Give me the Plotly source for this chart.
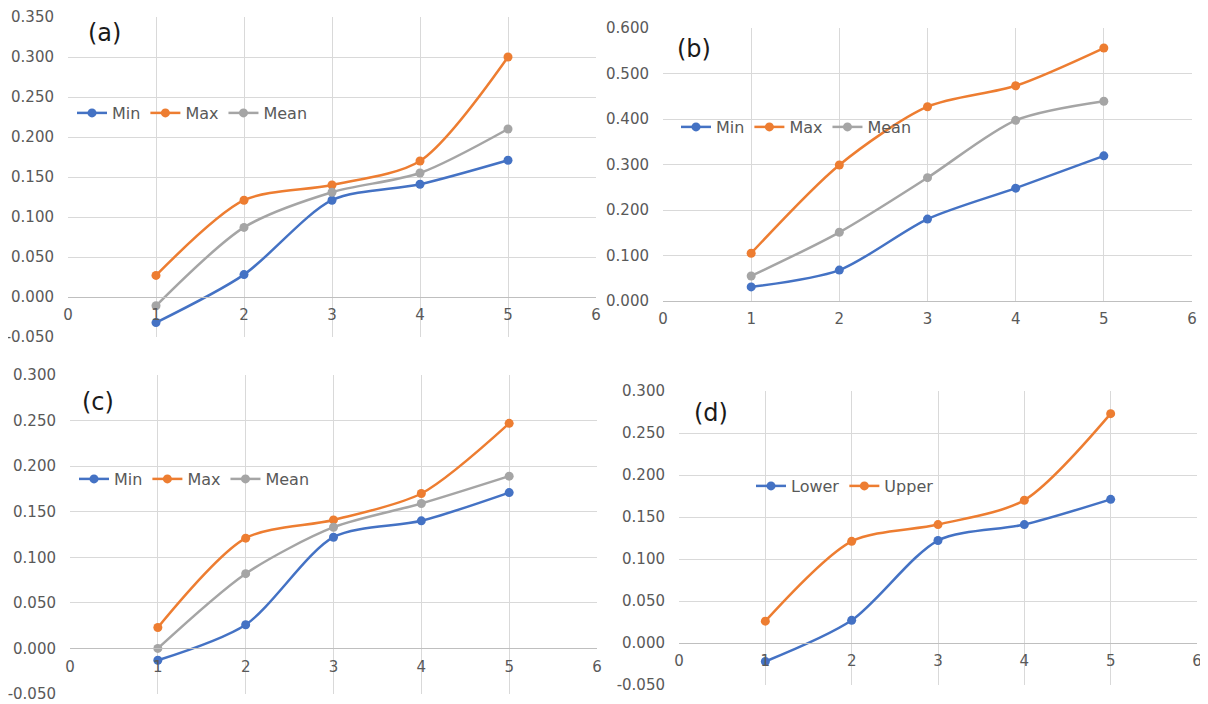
import plotly.graph_objects as go

x_vals = [1, 2, 3, 4, 5]

# Panel (a)
a_min = [-0.032, 0.028, 0.121, 0.141, 0.171]
a_max = [0.027, 0.121, 0.140, 0.170, 0.300]
a_mean = [-0.011, 0.087, 0.131, 0.155, 0.210]

# Panel (b)
b_min = [0.031, 0.068, 0.180, 0.248, 0.319]
b_max = [0.105, 0.299, 0.427, 0.473, 0.556]
b_mean = [0.055, 0.151, 0.271, 0.397, 0.439]

# Panel (c)
c_min = [-0.013, 0.026, 0.122, 0.140, 0.171]
c_max = [0.023, 0.121, 0.141, 0.170, 0.247]
c_mean = [0.000, 0.082, 0.133, 0.159, 0.189]

# Panel (d)
d_lower = [-0.022, 0.027, 0.122, 0.141, 0.171]
d_upper = [0.026, 0.121, 0.141, 0.170, 0.273]

x_ticks = [0, 1, 2, 3, 4, 5, 6]
y_ticks_a = [-0.05, 0.0, 0.05, 0.10, 0.15, 0.20, 0.25, 0.30, 0.35]
y_ticks_b = [0.0, 0.1, 0.2, 0.3, 0.4, 0.5, 0.6]
y_ticks_c = [-0.05, 0.0, 0.05, 0.10, 0.15, 0.20, 0.25, 0.30]
y_ticks_d = [-0.05, 0.0, 0.05, 0.10, 0.15, 0.20, 0.25, 0.30]

BLUE = "#4472C4"
ORANGE = "#ED7D31"
GRAY = "#A5A5A5"
FONT = "DejaVu Sans"
TICKCOL = "#595959"
GRID = "#D9D9D9"

OFF = 8  # page body margin
W, H = 1208 - OFF, 704 - OFF

def px_x(p):
    return (p - OFF) / W

def px_y(p):
    return 1 - (p - OFF) / H

def fmt(v):
    return "%.3f" % v

fig = go.Figure()

def add_series(xa, ya, name, yv, color, legend):
    fig.add_trace(go.Scatter(
        x=x_vals, y=yv, name=name, mode="lines+markers",
        line=dict(color=color, width=2.5, shape="spline", smoothing=0.8),
        marker=dict(color=color, size=9, symbol="circle"),
        xaxis=xa, yaxis=ya, legend=legend,
    ))

add_series("x", "y", "Min", a_min, BLUE, "legend")
add_series("x", "y", "Max", a_max, ORANGE, "legend")
add_series("x", "y", "Mean", a_mean, GRAY, "legend")

add_series("x2", "y2", "Min", b_min, BLUE, "legend2")
add_series("x2", "y2", "Max", b_max, ORANGE, "legend2")
add_series("x2", "y2", "Mean", b_mean, GRAY, "legend2")

add_series("x3", "y3", "Min", c_min, BLUE, "legend3")
add_series("x3", "y3", "Max", c_max, ORANGE, "legend3")
add_series("x3", "y3", "Mean", c_mean, GRAY, "legend3")

add_series("x4", "y4", "Lower", d_lower, BLUE, "legend4")
add_series("x4", "y4", "Upper", d_upper, ORANGE, "legend4")

# geometry in page pixels: x of value 0 / 6, y of top / bottom of the value range
panels = {
    "1": dict(x0=68, x1=596, yt=17, yb=337, yr=[-0.05, 0.35], yt_vals=y_ticks_a),
    "2": dict(x0=663, x1=1192, yt=28, yb=301, yr=[0.0, 0.6], yt_vals=y_ticks_b),
    "3": dict(x0=70, x1=597, yt=375, yb=694, yr=[-0.05, 0.30], yt_vals=y_ticks_c),
    "4": dict(x0=679, x1=1197, yt=391, yb=685, yr=[-0.05, 0.30], yt_vals=y_ticks_d),
}

layout = {}
for k, p in panels.items():
    suffix = "" if k == "1" else k
    xname = "xaxis" + suffix
    yname = "yaxis" + suffix
    ydom = [px_y(p["yb"]), px_y(p["yt"])]
    y0, y1 = p["yr"]
    zero_pos = ydom[0] + (0 - y0) / (y1 - y0) * (ydom[1] - ydom[0])
    layout[xname] = dict(
        domain=[px_x(p["x0"]), px_x(p["x1"])],
        range=[0, 6], tickvals=x_ticks, ticktext=[str(t) for t in x_ticks],
        showgrid=True, gridcolor=GRID, gridwidth=1,
        zeroline=False, showline=True, linecolor="#BFBFBF", linewidth=1.2,
        anchor="free", position=zero_pos, automargin=False,
        ticks="", tickfont=dict(family=FONT, size=15, color=TICKCOL),
        ticklabelstandoff=4, fixedrange=True,
    )
    layout[yname] = dict(
        domain=ydom, range=p["yr"], tickvals=p["yt_vals"],
        ticktext=[fmt(v) for v in p["yt_vals"]],
        showgrid=True, gridcolor=GRID, gridwidth=1,
        zeroline=False, showline=False, automargin=False,
        anchor="x" + suffix, ticks="",
        tickfont=dict(family=FONT, size=15, color=TICKCOL),
        ticklabelstandoff=13, fixedrange=True,
    )

legend_common = dict(
    orientation="h", bgcolor="rgba(0,0,0,0)", borderwidth=0,
    font=dict(family=FONT, size=16, color=TICKCOL),
    xanchor="left", yanchor="middle", itemwidth=30,
)
layout["legend"] = dict(legend_common, x=px_x(72), y=px_y(113))
layout["legend2"] = dict(legend_common, x=px_x(676), y=px_y(127))
layout["legend3"] = dict(legend_common, x=px_x(74), y=px_y(479))
layout["legend4"] = dict(legend_common, x=px_x(751), y=px_y(486))

labels = [("(a)", 86, 33), ("(b)", 675, 49), ("(c)", 80, 402), ("(d)", 692, 413)]
annotations = [
    dict(text=t, x=px_x(xp), y=px_y(yp), xref="paper", yref="paper",
         xanchor="left", yanchor="middle", showarrow=False,
         font=dict(family=FONT, size=24, color="#1a1a1a"))
    for t, xp, yp in labels
]

fig.update_layout(
    width=W, height=H, margin=dict(l=0, r=0, t=0, b=0),
    paper_bgcolor="white", plot_bgcolor="white",
    showlegend=True, annotations=annotations, **layout,
)

fig.write_html("out.html")
